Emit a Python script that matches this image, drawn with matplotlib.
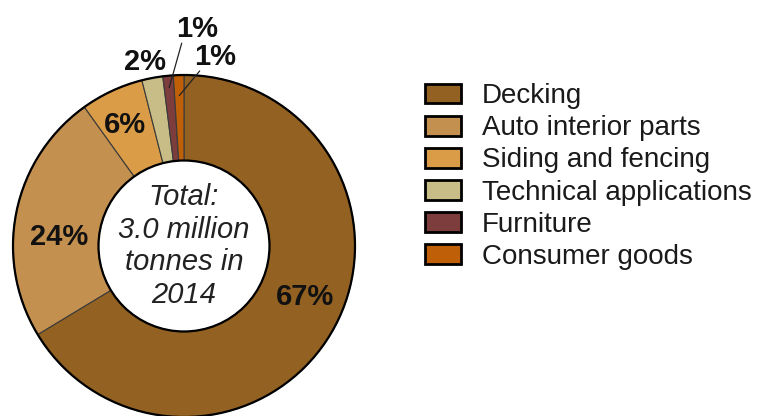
import matplotlib.pyplot as plt
import numpy as np
from matplotlib.patches import Circle

plt.rcParams["font.family"] = ["Liberation Sans", "DejaVu Sans"]

categories = ["Decking", "Auto interior parts", "Siding and fencing",
              "Technical applications", "Furniture", "Consumer goods"]
shares = [67, 24, 6, 2, 1, 1]
colors = ["#936121", "#C4904F", "#DA9C47", "#C8BD86", "#7E3D3D", "#BF5F08"]

# label placement: (radius factor, angle offset in degrees)
label_pos = [(0.77, 6.5), (0.73, 7.5), (0.79, 1.0), (1.10, 1.3), (1.27, -8.7), (1.12, -11.0)]
leader = [None, None, None, None, 0.93, 0.88]

fig = plt.figure(figsize=(7.6, 4.16), dpi=100)
ax = fig.add_axes([0, 0, 1, 1])

cx, cy, R = 184, 170, 171
wedges, _ = ax.pie(shares, colors=colors, startangle=90, counterclock=False,
                   radius=R, center=(cx, cy), frame=True,
                   wedgeprops=dict(width=R * 0.5, edgecolor="#3a3a3a", linewidth=0.8))
ax.set_xlim(0, 760)
ax.set_ylim(0, 416)
ax.set_aspect("equal")
ax.axis("off")

ax.add_patch(Circle((cx, cy), R, fill=False, edgecolor="black", linewidth=1.6))
ax.add_patch(Circle((cx, cy), R * 0.5, fill=False, edgecolor="black", linewidth=1.6))

for w, val, (rf, off), lr in zip(wedges, shares, label_pos, leader):
    mid = np.deg2rad((w.theta1 + w.theta2) / 2)
    ang = mid + np.deg2rad(off)
    tx, ty = cx + rf * R * np.cos(ang), cy + rf * R * np.sin(ang)
    ax.text(tx, ty, f"{val}%", ha="center", va="center", fontsize=21,
            fontweight="bold", color="#111111")
    if lr is not None:
        px, py = cx + lr * R * np.cos(mid), cy + lr * R * np.sin(mid)
        ax.annotate("", xy=(px, py), xytext=(tx - 15, ty - 14),
                    arrowprops=dict(arrowstyle="-", color="#222222", lw=0.9,
                                    shrinkA=0, shrinkB=0))

ax.text(cx, cy, "Total:\n3.0 million\ntonnes in\n2014", ha="center", va="center",
        fontsize=21, style="italic", color="#222222", linespacing=1.22)

handles = [plt.Rectangle((0, 0), 1, 1, facecolor=c, edgecolor="black", linewidth=2)
           for c in colors]
fig.legend(handles, categories, loc="upper left", bbox_to_anchor=(0.559, 0.80),
           frameon=False, fontsize=20, handlelength=1.3, handleheight=0.72,
           handletextpad=0.75, labelspacing=0.22, borderpad=0, borderaxespad=0,
           labelcolor="#1a1a1a")

fig.savefig("out.png", dpi=100)
